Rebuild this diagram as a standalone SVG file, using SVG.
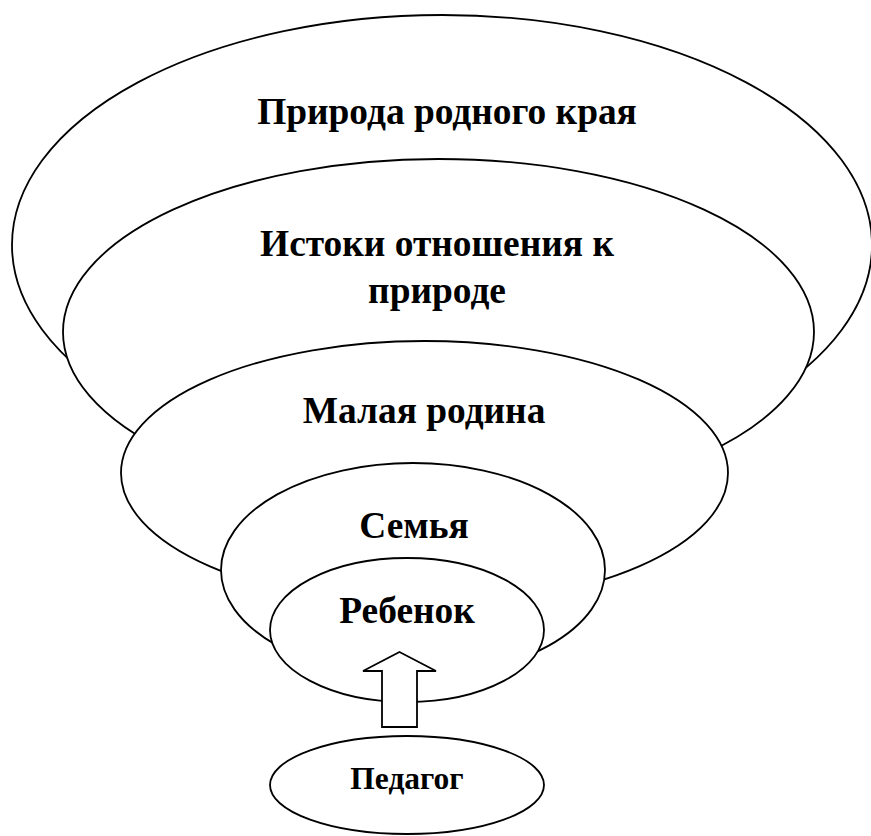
<svg xmlns="http://www.w3.org/2000/svg" width="871" height="836" viewBox="0 0 871 836">
<style>
.e{fill:#fff;stroke:#000;stroke-width:1.8}
.t{font-family:"Liberation Serif","Times New Roman",serif;font-weight:bold;font-size:37.4px;text-anchor:middle;fill:#000}
.s{font-size:31.5px}
</style>
<rect width="871" height="836" fill="#fff"/>
<g id="n1"><ellipse class="e" cx="442" cy="245" rx="430" ry="230"/><text class="t" x="447" y="124">Природа родного края</text></g>
<g id="n2"><ellipse class="e" cx="438.5" cy="332" rx="375.5" ry="173"/><text class="t" x="437" y="256">Истоки отношения к</text><text class="t" x="437" y="303">природе</text></g>
<g id="n3"><ellipse class="e" cx="424.5" cy="473" rx="303.5" ry="132"/><text class="t" x="424" y="423">Малая родина</text></g>
<g id="n4"><ellipse class="e" cx="413" cy="570" rx="192" ry="107"/><text class="t" x="414" y="538">Семья</text></g>
<g id="n5"><ellipse class="e" cx="407" cy="630" rx="137" ry="72"/><text class="t" x="407" y="623">Ребенок</text></g>
<g id="connectors"><path class="e" d="M399.5,652 L436,671 L417,671 L417,727 L382,727 L382,671 L363,671 Z"/></g>
<g id="n6"><ellipse class="e" cx="407" cy="785" rx="137" ry="49"/><text class="t s" x="407" y="789">Педагог</text></g>
</svg>
